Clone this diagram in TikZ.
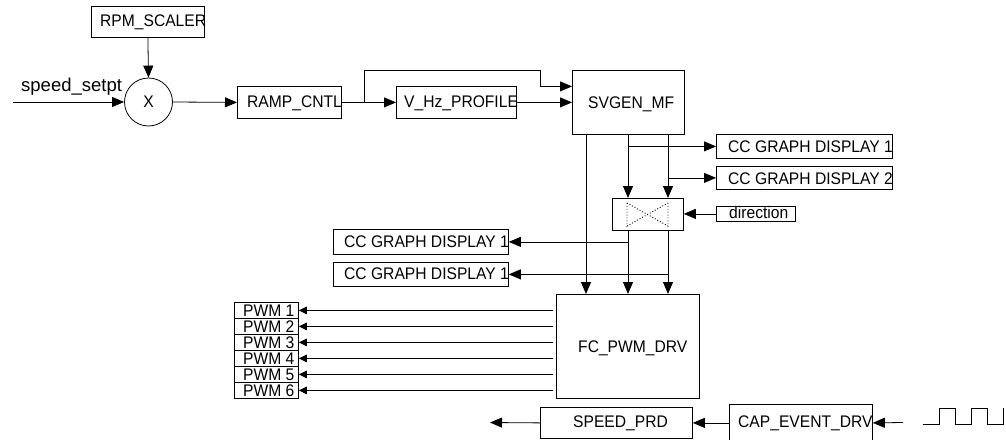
\documentclass[tikz,border=0pt]{standalone}
\usepackage{fontspec}
\setmainfont{Liberation Sans}
\newfontfamily\narrowsans[FakeStretch=0.93]{Liberation Sans}
\usetikzlibrary{arrows.meta,calc}
\newcommand\lblfont{\narrowsans\fontsize{16.8}{19}\selectfont}
\begin{document}
\begin{tikzpicture}[x=1pt,y=-1pt,
  box/.style={draw, line width=0.8pt, inner sep=0pt, anchor=north west},
  lbl/.style={inner sep=0pt, anchor=base west, font=\lblfont},
  conn/.style={line width=0.8pt, -{Triangle[length=12pt,width=10pt]}},
  small/.style={line width=0.8pt, -{Triangle[length=8pt,width=7.5pt]}},
  wire/.style={line width=0.8pt}]
\useasboundingbox (0,0) rectangle (1006,439);

% boxes
\node[box, minimum width=113pt, minimum height=31pt] (rpm) at (91,6) {};
\node[draw, line width=0.8pt, circle, minimum size=48pt, inner sep=0pt, font=\lblfont] (mul) at (148.5,102) {X};
\node[box, minimum width=104pt, minimum height=32pt] (ramp) at (237,86) {};
\node[box, minimum width=120pt, minimum height=32pt] (vhz) at (396,86) {};
\node[box, minimum width=112pt, minimum height=64pt] (svgen) at (572,70) {};
\node[box, minimum width=176pt, minimum height=24pt] (ccr1) at (716,134) {};
\node[box, minimum width=176pt, minimum height=23pt] (ccr2) at (716,166) {};
\node[box, minimum width=71pt, minimum height=32pt] (cross) at (612,198) {};
\node[box, minimum width=79pt, minimum height=15pt] (dir) at (716,206) {};
\node[box, minimum width=175pt, minimum height=25pt] (ccl1) at (333,229) {};
\node[box, minimum width=175pt, minimum height=24pt] (ccl2) at (333,262) {};
\foreach \i in {1,...,6}{
  \node[box, minimum width=64pt, minimum height=16pt] (pwm\i) at (234,{302+16*(\i-1)}) {};
}
\node[box, minimum width=143pt, minimum height=104pt] (fc) at (556,294) {};
\node[box, minimum width=152pt, minimum height=31pt] (spd) at (540,407) {};
\node[box, minimum width=143pt, minimum height=37pt] (cap) at (729,404) {};

% labels
\node[lbl] (l-rpm) at (100,27) {RPM\_SCALER};
\node[lbl, font=\fontsize{18.5}{21}\selectfont] (l-sp) at (21,91) {speed\_setpt};
\node[lbl] (l-ramp) at (247,107) {RAMP\_CNTL};
\node[lbl] (l-vhz) at (404,107) {V\_Hz\_PROFILE};
\node[lbl] (l-svgen) at (588,108) {SVGEN\_MF};
\node[lbl] (l-ccr1) at (728,152) {CC GRAPH DISPLAY 1};
\node[lbl] (l-ccr2) at (728,184) {CC GRAPH DISPLAY 2};
\node[lbl] (l-dir) at (729,218) {direction};
\node[lbl] (l-ccl1) at (344,247) {CC GRAPH DISPLAY 1};
\node[lbl] (l-ccl2) at (344,279) {CC GRAPH DISPLAY 1};
\foreach \i in {1,...,6}{
  \node[lbl] (l-pwm\i) at (243,{316+16*(\i-1)}) {PWM \i};
}
\node[lbl] (l-fc) at (578,352) {FC\_PWM\_DRV};
\node[lbl] (l-spd) at (573,427.5) {SPEED\_PRD};
\node[lbl] (l-cap) at (738,427.5) {CAP\_EVENT\_DRV};

% crossover pattern
\draw[dotted, line width=0.9pt] (627,203) -- (627,227) (668,203) -- (668,227)
  (627,226) -- (668,203) (627,203) -- (668,226);

% coordinates
\coordinate (sin) at (13,102);
\coordinate (br) at (364,102);
\coordinate (t1) at (586,134);
\coordinate (t2) at (628,134);
\coordinate (t3) at (668,134);
\coordinate (fcl) at (553,300);
\coordinate (sout) at (490,422.5);
\coordinate (cin) at (903,422.5);

% connectors
\draw[conn] (rpm.south) -- (mul.north);
\draw[conn] (sin) -- (mul.west);
\draw[conn] (mul.east) -- (ramp.west);
\draw[conn] (ramp.east) -- (vhz.west);
\draw[conn] (br) |- (540,70) |- ($(svgen.west)+(0,-16)$);
\draw[conn] (vhz.east) -- (svgen.west);
\draw[conn] (t1) -- (t1 |- fc.north);
\draw[conn] (t2) -- (t2 |- cross.north);
\draw[conn] (t3) -- (t3 |- cross.north);
\draw[conn] (t2 |- ccr1.west) -- (ccr1.west);
\draw[conn] (t3 |- ccr2.west) -- (ccr2.west);
\draw[conn] (dir.west) -- (dir.west -| cross.east);
\draw[conn] (t2 |- cross.south) -- (t2 |- fc.north);
\draw[conn] (t3 |- cross.south) -- (t3 |- fc.north);
\draw[conn] (t2 |- ccl1.east) -- (ccl1.east);
\draw[conn] (t3 |- ccl2.east) -- (ccl2.east);
\foreach \i in {1,...,6}{
  \draw[small] (fcl |- pwm\i.east) -- (pwm\i.east);
}
\draw[conn] (spd.west) -- (sout);
\draw[conn] (cap.west) -- (spd.east);
\draw[conn] (cin) -- (cap.east);

% square wave
\draw[wire] (923,424) -- (939,424) -- (939,408) -- (955,408) -- (955,424)
  -- (971,424) -- (971,408) -- (987,408) -- (987,424) -- (1003,424) -- (1003,408);
\end{tikzpicture}
\end{document}
